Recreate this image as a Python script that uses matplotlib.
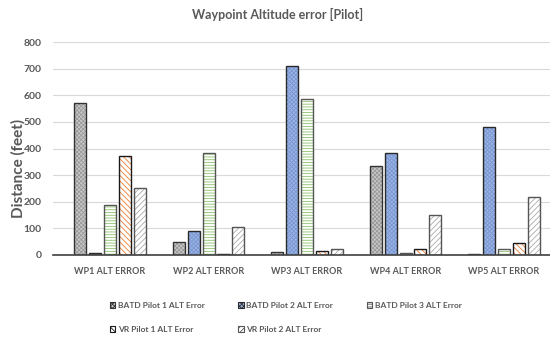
import numpy as np
import matplotlib
matplotlib.use('Agg')
from matplotlib import pyplot as plt
from matplotlib.patches import Patch

plt.rcParams['font.family'] = ['Lato', 'DejaVu Sans']
plt.rcParams['hatch.linewidth'] = 0.6

waypoints = ['WP1 ALT ERROR', 'WP2 ALT ERROR', 'WP3 ALT ERROR',
             'WP4 ALT ERROR', 'WP5 ALT ERROR']
series = ['BATD Pilot 1 ALT Error', 'BATD Pilot 2 ALT Error',
          'BATD Pilot 3 ALT Error', 'VR Pilot 1 ALT Error',
          'VR Pilot 2 ALT Error']
batd_pilot1 = [570, 50, 12, 336, 3]
batd_pilot2 = [9, 90, 710, 383, 482]
batd_pilot3 = [188, 383, 585, 6, 21]
vr_pilot1 = [370, 3, 15, 24, 46]
vr_pilot2 = [251, 106, 24, 149, 219]

# face colour, hatch pattern, hatch colour, outline colour
styles = [
    ('#c8c8c8', 'xxxxxxxx', '#9a9a9a', '#333333'),
    ('#9db5e4', 'xxxxxxxx', '#7896d2', '#2a2a2a'),
    ('white', '------', '#8cc06a', '#555555'),
    ('white', '\\\\\\\\\\\\', '#ed7d31', '#1a1a1a'),
    ('white', '//////', '#aaaaaa', '#555555'),
]

grey = '#595959'

fig = plt.figure(figsize=(5.5, 3.41), dpi=100)
ax = fig.add_axes([53 / 550, 86 / 341, 497 / 550, 213 / 341])

values = [batd_pilot1, batd_pilot2, batd_pilot3, vr_pilot1, vr_pilot2]
x = np.arange(len(waypoints))
step = 0.152
width = 0.122
for i, vals in enumerate(values):
    face, hatch, hcol, edge = styles[i]
    pos = x + (i - 2) * step
    ax.bar(pos, vals, width, color=face, hatch=hatch, edgecolor=hcol,
           linewidth=0, zorder=3)
    ax.bar(pos, vals, width, fill=False, edgecolor=edge, linewidth=1.0,
           zorder=4)

ax.set_xlim(-0.579, 4.467)
ax.set_ylim(0, 800)
ax.set_yticks(range(0, 801, 100))
ax.set_xticks(x)
ax.set_xticklabels(waypoints, fontsize=6.5, color=grey, fontweight='bold')
ax.tick_params(axis='y', labelsize=7.5, colors=grey, length=0, pad=8)
ax.tick_params(axis='x', length=0, pad=9)
for lab in ax.get_yticklabels():
    lab.set_fontweight('bold')
ax.grid(axis='y', color='#d9d9d9', linewidth=0.8, zorder=0)
for s in ['top', 'right', 'left']:
    ax.spines[s].set_visible(False)
ax.spines['bottom'].set_color('#404040')
ax.spines['bottom'].set_linewidth(1.2)
ax.spines['bottom'].set_zorder(5)

fig.text(18 / 550, 1 - 168 / 341, 'Distance (feet)', rotation=90,
         ha='center', va='center', fontsize=11, fontweight='bold',
         color=grey)
fig.text(0.505, 0.958, 'Waypoint Altitude error [Pilot]', ha='center',
         va='center', fontsize=9, fontweight='bold', color=grey)

# legend fills column by column, so order entries to read row by row
order = [0, 3, 1, 4, 2]
handles = [Patch(facecolor=styles[k][0], hatch=styles[k][1],
                 edgecolor=styles[k][3], linewidth=0.8) for k in order]
labels = [series[k] for k in order]
leg = fig.legend(handles, labels, loc='upper left',
                 bbox_to_anchor=(102 / 550, 1 - 294 / 341), ncol=3,
                 frameon=False, fontsize=6, handlelength=0.7,
                 handleheight=0.7, handletextpad=0.3, columnspacing=4.0,
                 labelspacing=2.1)
for t in leg.get_texts():
    t.set_color(grey)
    t.set_fontweight('bold')

fig.savefig('out.png', dpi=100)
